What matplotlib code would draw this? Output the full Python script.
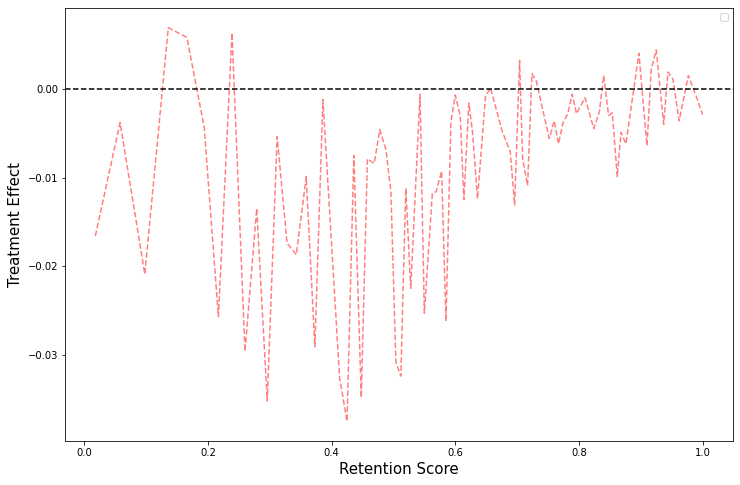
import matplotlib
matplotlib.use("Agg")
import matplotlib.pyplot as plt

# binned retention score vs estimated treatment effect
retention_score = [
    0.018, 0.058, 0.098, 0.136, 0.166, 0.194, 0.217, 0.239, 0.260, 0.279,
    0.296, 0.312, 0.328, 0.343, 0.359, 0.373, 0.386, 0.413, 0.425, 0.436,
    0.448, 0.458, 0.469, 0.478, 0.488, 0.496, 0.504, 0.512, 0.520, 0.528,
    0.543, 0.550, 0.563, 0.569, 0.578, 0.585, 0.593, 0.600, 0.608, 0.614,
    0.622, 0.628, 0.636, 0.649, 0.657, 0.676, 0.689, 0.696, 0.704, 0.709,
    0.717, 0.724, 0.731, 0.752, 0.760, 0.767, 0.774, 0.782, 0.789, 0.796,
    0.810, 0.824, 0.833, 0.840, 0.848, 0.854, 0.862, 0.868, 0.876, 0.897,
    0.910, 0.917, 0.925, 0.937, 0.944, 0.952, 0.962, 0.977, 0.990, 1.000,
]
treatment_effect = [
    -0.0166, -0.0038, -0.0209, 0.0069, 0.0058, -0.0043, -0.0257, 0.0063, -0.0296, -0.0135,
    -0.0352, -0.0054, -0.0174, -0.0187, -0.0099, -0.0291, -0.0012, -0.0326, -0.0375, -0.0075,
    -0.0348, -0.0079, -0.0084, -0.0046, -0.0069, -0.0116, -0.0308, -0.0324, -0.0112, -0.0225,
    -0.0006, -0.0253, -0.0118, -0.0116, -0.0093, -0.0262, -0.0037, -0.0007, -0.0030, -0.0125,
    -0.0016, -0.0049, -0.0124, -0.0008, 0.0001, -0.0048, -0.0071, -0.0131, 0.0032, -0.0079,
    -0.0109, 0.0017, 0.0009, -0.0056, -0.0036, -0.0062, -0.0039, -0.0028, -0.0006, -0.0028,
    -0.0010, -0.0045, -0.0026, 0.0015, -0.0030, -0.0027, -0.0099, -0.0049, -0.0062, 0.0040,
    -0.0064, 0.0022, 0.0044, -0.0040, 0.0019, 0.0011, -0.0036, 0.0015, -0.0009, -0.0029,
]

dpi = 72
fig = plt.figure(figsize=(740 / dpi, 485 / dpi), dpi=dpi)
ax = fig.add_axes([0.0878, 0.0907, 0.9027, 0.8928])

ax.plot(retention_score, treatment_effect, color="red", linestyle="--", alpha=0.5)
ax.axhline(0, color="black", linestyle="--")

ax.set_xlabel("Retention Score", fontsize=15)
ax.set_ylabel("Treatment Effect", fontsize=15)
ax.set_xticks([0.0, 0.2, 0.4, 0.6, 0.8, 1.0])
ax.set_yticks([0.00, -0.01, -0.02, -0.03])
ax.tick_params(labelsize=10)
ax.legend(handles=[], loc="upper right")

fig.savefig("out.png", dpi=dpi)
